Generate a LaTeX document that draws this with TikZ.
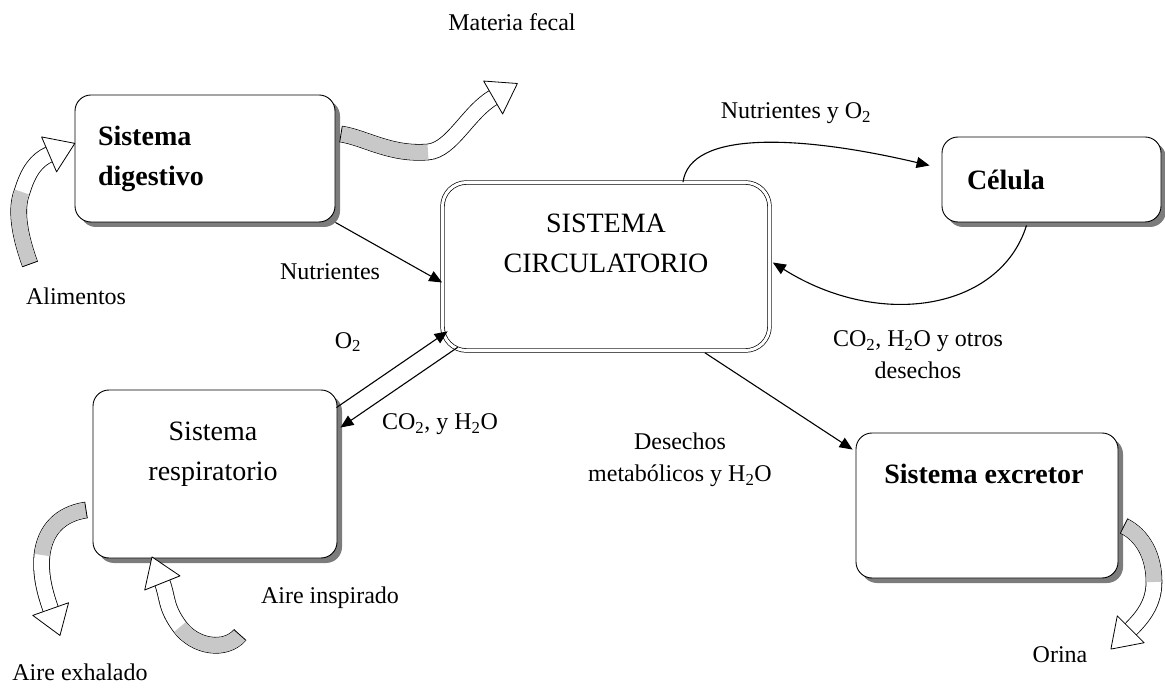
\documentclass[tikz,border=0pt]{standalone}
\usepackage{fontspec}
\setmainfont{Liberation Serif}
\usetikzlibrary{arrows.meta,calc,positioning,shadows,decorations.markings}
\definecolor{tailgray}{RGB}{200,200,200}
\definecolor{shadegray}{RGB}{110,110,110}

\tikzset{
  box/.style={draw, line width=0.9pt, rounded corners=16pt, fill=white,
    drop shadow={shadow xshift=5pt, shadow yshift=-5pt, fill=shadegray, opacity=0.9}},
  bigbox/.style={draw, line width=0.7pt, rounded corners=24pt, double=white, double distance=3pt},
  boldtxt/.style={font=\fontsize{28}{40}\selectfont\bfseries, align=left},
  boxtxt/.style={font=\fontsize{28}{40}\selectfont, align=center},
  lbl/.style={font=\fontsize{24}{32}\selectfont, align=center},
  flow/.style={line width=1.1pt, -{Triangle[length=13pt,width=11pt]}},
  band/.style={line width=0.8pt, double=white, double distance=15pt},
  bandtail/.style={line width=15pt, draw=tailgray},
  bandhead/.style={decoration={markings,
      mark=at position 0 with {\draw[line width=0.8pt] (0pt,-8.3pt) -- (0pt,8.3pt);},
      mark=at position 1 with {\draw[line width=0.8pt, fill=white, line join=round]
        (-1pt,19pt) -- (27pt,0pt) -- (-1pt,-19pt) -- cycle;}},
    decorate}
}
% hollow curved arrow: #1 grey tail part, #2 rest of the band
\newcommand{\bandarrow}[2]{%
  \draw[band] #1 #2;
  \draw[bandtail] #1;
  \path[bandhead] #1 #2;}

\begin{document}
\begin{tikzpicture}[x=1pt, y=-1pt]
  \useasboundingbox (0,0) rectangle (1165,692);

  % boxes
  \node[box, boldtxt, text width=214pt, inner xsep=23pt, minimum height=127pt] (dig) at (205,158.5) {Sistema\\digestivo};
  \node[box, boldtxt, text width=169pt, inner xsep=25pt, minimum height=85pt] (cel) at (1051.5,179.5) {Célula};
  \node[bigbox, minimum width=327pt, minimum height=168pt] (circ) at (606,266.5) {};
  \node[boxtxt] (circtxt) at ($(circ.center)+(0,-23)$) {SISTEMA\\CIRCULATORIO};
  \node[box, minimum width=244pt, minimum height=168pt] (resp) at (215,474) {};
  \node[boxtxt] (resptxt) at ($(resp.center)+(-2,-20)$) {Sistema\\respiratorio};
  \node[box, minimum width=262pt, minimum height=145pt] (exc) at (987,505.5) {};
  \node[boldtxt] (exctxt) at ($(exc.center)+(-3,-32)$) {Sistema excretor};

  % connectors
  \draw[flow] (dig.south east) -- ($(circ.west)+(0,16)$);
  \draw[flow] ($(resp.north east)+(-1,18)$) -- ($(circ.south west)+(5.5,-19.5)$);
  \draw[flow] ($(circ.south west)+(15.5,-3.5)$) -- ($(resp.north east)+(3,38)$);
  \draw[flow] ($(circ.north)+(77,0)$) .. controls (690,130) and (800,135) .. ($(cel.west)+(-12,-14)$);
  \draw[flow] ($(cel.south)+(-25,3)$) .. controls (1000,310) and (880,330) .. ($(circ.east)+(3,-4)$);
  \draw[flow] ($(circ.south)+(99,2)$) -- ($(exc.north west)+(-3,17)$);

  % labels
  \node[lbl] (lnut) at (330,272) {Nutrientes};
  \node[lbl] (lnuto) at (796,113) {Nutrientes y O\textsubscript{2}};
  \node[lbl] (lo) at (348,342) {O\textsubscript{2}};
  \node[lbl] (lco) at (440,424) {CO\textsubscript{2}, y H\textsubscript{2}O};
  \node[lbl] (lotros) at (918,355) {CO\textsubscript{2}, H\textsubscript{2}O y otros\\desechos};
  \node[lbl] (ldes) at (680,460) {Desechos\\metabólicos y H\textsubscript{2}O};
  \node[lbl] (lfecal) at (512,22) {Materia fecal};
  \node[lbl] (lalim) at (76,296) {Alimentos};
  \node[lbl] (linsp) at (330,598) {Aire inspirado};
  \node[lbl] (lexh) at (80,672) {Aire exhalado};
  \node[lbl] (lorina) at (1060,655) {Orina};

  % hollow curved arrows
  \bandarrow{(341,134) .. controls (366,138) and (390,155) .. (428,152)}{.. controls (452,150) and (468,112) .. (494,97)}
  \bandarrow{(30,264) .. controls (22,242) and (14,212) .. (22,192)}{.. controls (28,172) and (36,160) .. (50,154)}
  \bandarrow{(86,510) .. controls (60,514) and (45,530) .. (42,555)}{.. controls (40,575) and (45,593) .. (51,610)}
  \bandarrow{(240,635) .. controls (225,652) and (195,647) .. (180,627)}{.. controls (165,607) and (168,597) .. (162,582)}
  \bandarrow{(1124,526) .. controls (1142,535) and (1154,555) .. (1154,582)}{.. controls (1154,604) and (1142,618) .. (1130,630)}
\end{tikzpicture}
\end{document}
